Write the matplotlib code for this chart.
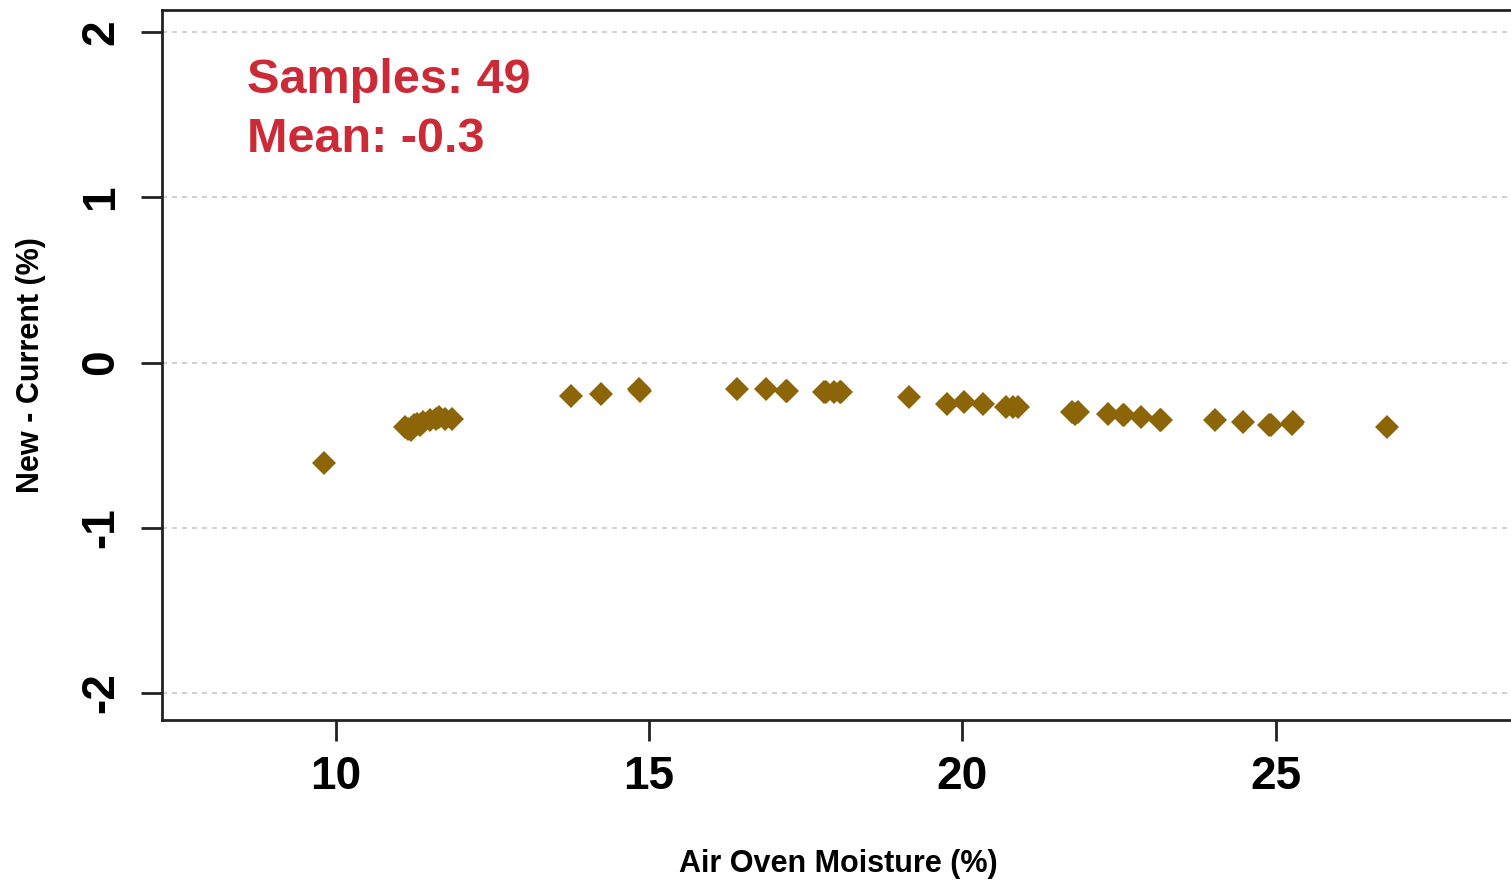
import matplotlib
matplotlib.use("Agg")
import matplotlib.pyplot as plt

# data
moisture = [9.81,
            11.10, 11.15, 11.20, 11.25, 11.30, 11.35, 11.40, 11.50, 11.60, 11.65, 11.75, 11.85,
            13.76, 14.24, 14.84, 14.86,
            16.40, 16.86, 17.18, 17.20, 17.79, 17.82, 17.95, 18.07, 18.05,
            19.14, 19.75, 20.02, 20.33, 20.70, 20.89, 20.80,
            21.75, 21.85, 21.80, 22.32, 22.56, 22.58, 22.85, 23.17, 23.15,
            24.03, 24.47, 24.89, 24.92, 25.27, 25.25, 26.78]
diff = [-0.61,
        -0.39, -0.40, -0.41, -0.38, -0.37, -0.38, -0.36, -0.35, -0.34, -0.33, -0.34, -0.34,
        -0.20, -0.19, -0.16, -0.17,
        -0.16, -0.16, -0.17, -0.17, -0.18, -0.18, -0.18, -0.18, -0.18,
        -0.21, -0.25, -0.24, -0.25, -0.27, -0.27, -0.27,
        -0.30, -0.30, -0.31, -0.31, -0.32, -0.32, -0.33, -0.35, -0.35,
        -0.35, -0.36, -0.38, -0.38, -0.36, -0.37, -0.39]
xticks = [10, 15, 20, 25]
yticks = [-2, -1, 0, 1, 2]
n_samples = 49
mean_diff = -0.3

plt.rcParams['font.family'] = ['Liberation Sans', 'DejaVu Sans']
plt.rcParams['font.weight'] = 'bold'

fig = plt.figure(figsize=(15.11, 8.81), dpi=100)
ax = fig.add_axes([162 / 1511, 161 / 881, 1.002 - 162 / 1511, 710 / 881])

ax.plot(moisture, diff, linestyle='none', marker='D', markersize=12,
        color='#8B6508', markeredgewidth=0)

ax.set_xlim(7.23, 28.8)
ax.set_ylim(-2.163, 2.133)

for yv in yticks:
    ax.axhline(yv, color='#c8c8c8', lw=1.2, ls=(0, (3, 3)), zorder=0)

ax.set_xticks(xticks)
ax.set_yticks(yticks)
ax.set_xticklabels([str(v) for v in xticks], fontsize=33, fontweight='bold')
ax.set_yticklabels([str(v) for v in yticks], fontsize=33, fontweight='bold',
                   rotation=90, va='center')
ax.tick_params(axis='both', length=15, width=2, color='#222222')
ax.tick_params(axis='x', pad=10)
ax.tick_params(axis='y', pad=13)

for s in ['left', 'top', 'bottom']:
    ax.spines[s].set_linewidth(2)
    ax.spines[s].set_color('#222222')
ax.spines['right'].set_visible(False)

ax.set_xlabel('Air Oven Moisture (%)', fontsize=22, fontweight='bold', labelpad=36)
ax.set_ylabel('New - Current (%)', fontsize=22, fontweight='bold', labelpad=24)

ax.text(8.58, 1.63, f'Samples: {n_samples}', color='#CC2A36', fontsize=35,
        fontweight='bold', va='baseline')
ax.text(8.58, 1.275, f'Mean: {mean_diff}', color='#CC2A36', fontsize=35,
        fontweight='bold', va='baseline')

fig.savefig('out.png', dpi=100)
